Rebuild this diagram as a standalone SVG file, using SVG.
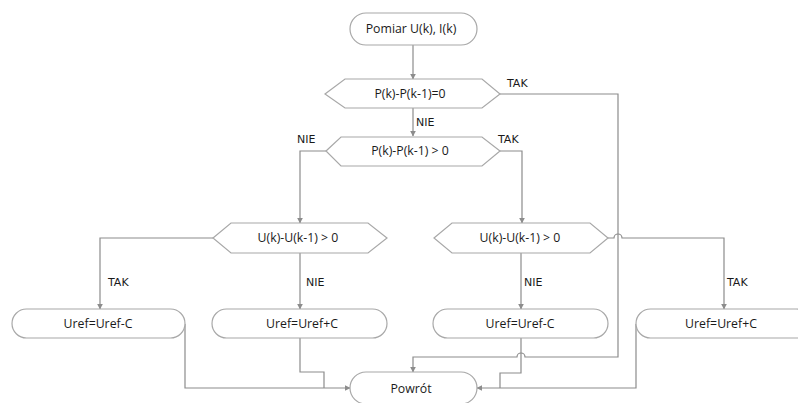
<svg xmlns="http://www.w3.org/2000/svg" width="798" height="403" viewBox="0 0 798 403">
<style>
.shape{fill:#ffffff;stroke:#a8a8a8;stroke-width:1.2}
.txt{font-family:"Open Sans","DejaVu Sans",sans-serif;font-size:12.3px;fill:#1a1a1a;text-anchor:middle}
.lbl{font-family:"DejaVu Sans",sans-serif;font-size:11px;fill:#1a1a1a}
.conn{fill:none;stroke:#8c8c8c;stroke-width:1.2}
</style>
<defs>
<marker id="arr" viewBox="0 0 10 10" refX="9" refY="5" markerWidth="6" markerHeight="6" orient="auto" markerUnits="userSpaceOnUse">
<path d="M0,0 L10,5 L0,10 z" fill="#8c8c8c"/>
</marker>
</defs>
<rect width="798" height="403" fill="#ffffff"/>
<g id="connectors">
<path class="conn" d="M413,45 V79" marker-end="url(#arr)"/>
<path class="conn" d="M413,108 V136" marker-end="url(#arr)"/>
<path class="conn" d="M500,94 H618 V357 H525 A4,4 0 0 0 517,357 H413 V372" marker-end="url(#arr)"/>
<path class="conn" d="M326,151 H300 V223" marker-end="url(#arr)"/>
<path class="conn" d="M500,151 H522 V223" marker-end="url(#arr)"/>
<path class="conn" d="M213,238 H100 V309" marker-end="url(#arr)"/>
<path class="conn" d="M300,253 V309" marker-end="url(#arr)"/>
<path class="conn" d="M521,253 V309" marker-end="url(#arr)"/>
<path class="conn" d="M608,238 H614 A4,4 0 0 1 622,238 H724 V309" marker-end="url(#arr)"/>
<path class="conn" d="M185,324 V388 H350" marker-end="url(#arr)"/>
<path class="conn" d="M300,338 V372 H324 V388"/>
<path class="conn" d="M521,338 V373 H500 V388"/>
<path class="conn" d="M636,324 V388 H477" marker-end="url(#arr)"/>
<text class="lbl" x="507" y="87">TAK</text>
<text class="lbl" x="416" y="126">NIE</text>
<text class="lbl" x="297" y="143">NIE</text>
<text class="lbl" x="498" y="143">TAK</text>
<text class="lbl" x="108" y="286">TAK</text>
<text class="lbl" x="306" y="286">NIE</text>
<text class="lbl" x="524" y="286">NIE</text>
<text class="lbl" x="727" y="286">TAK</text>
</g>
<g id="start">
<rect class="shape" x="350" y="13" width="127" height="32" rx="16"/>
<text class="txt" x="411" y="33">Pomiar U(k), I(k)</text>
</g>
<g id="dec1">
<polygon class="shape" points="325,94 345,79 482,79 500,94 482,108 345,108"/>
<text class="txt" x="410" y="98">P(k)-P(k-1)=0</text>
</g>
<g id="dec2">
<polygon class="shape" points="326,151 341,137 482,137 500,151 482,166 341,166"/>
<text class="txt" x="410" y="155">P(k)-P(k-1) &gt; 0</text>
</g>
<g id="dec3">
<polygon class="shape" points="213,238 231,223 368,223 387,238 368,253 231,253"/>
<text class="txt" x="298" y="242">U(k)-U(k-1) &gt; 0</text>
</g>
<g id="dec4">
<polygon class="shape" points="434,238 452,223 590,223 608,238 590,253 452,253"/>
<text class="txt" x="520" y="242">U(k)-U(k-1) &gt; 0</text>
</g>
<g id="box1">
<rect class="shape" x="12" y="309" width="173" height="29" rx="14.5"/>
<text class="txt" x="98" y="328">Uref=Uref-C</text>
</g>
<g id="box2">
<rect class="shape" x="212" y="309" width="175" height="29" rx="14.5"/>
<text class="txt" x="302" y="328">Uref=Uref+C</text>
</g>
<g id="box3">
<rect class="shape" x="433" y="309" width="175" height="29" rx="14.5"/>
<text class="txt" x="520" y="328">Uref=Uref-C</text>
</g>
<g id="box4">
<rect class="shape" x="636" y="309" width="175" height="29" rx="14.5"/>
<text class="txt" x="721" y="328">Uref=Uref+C</text>
</g>
<g id="end">
<rect class="shape" x="350" y="372" width="127" height="32" rx="16"/>
<text class="txt" x="411" y="393">Powrót</text>
</g>
</svg>
